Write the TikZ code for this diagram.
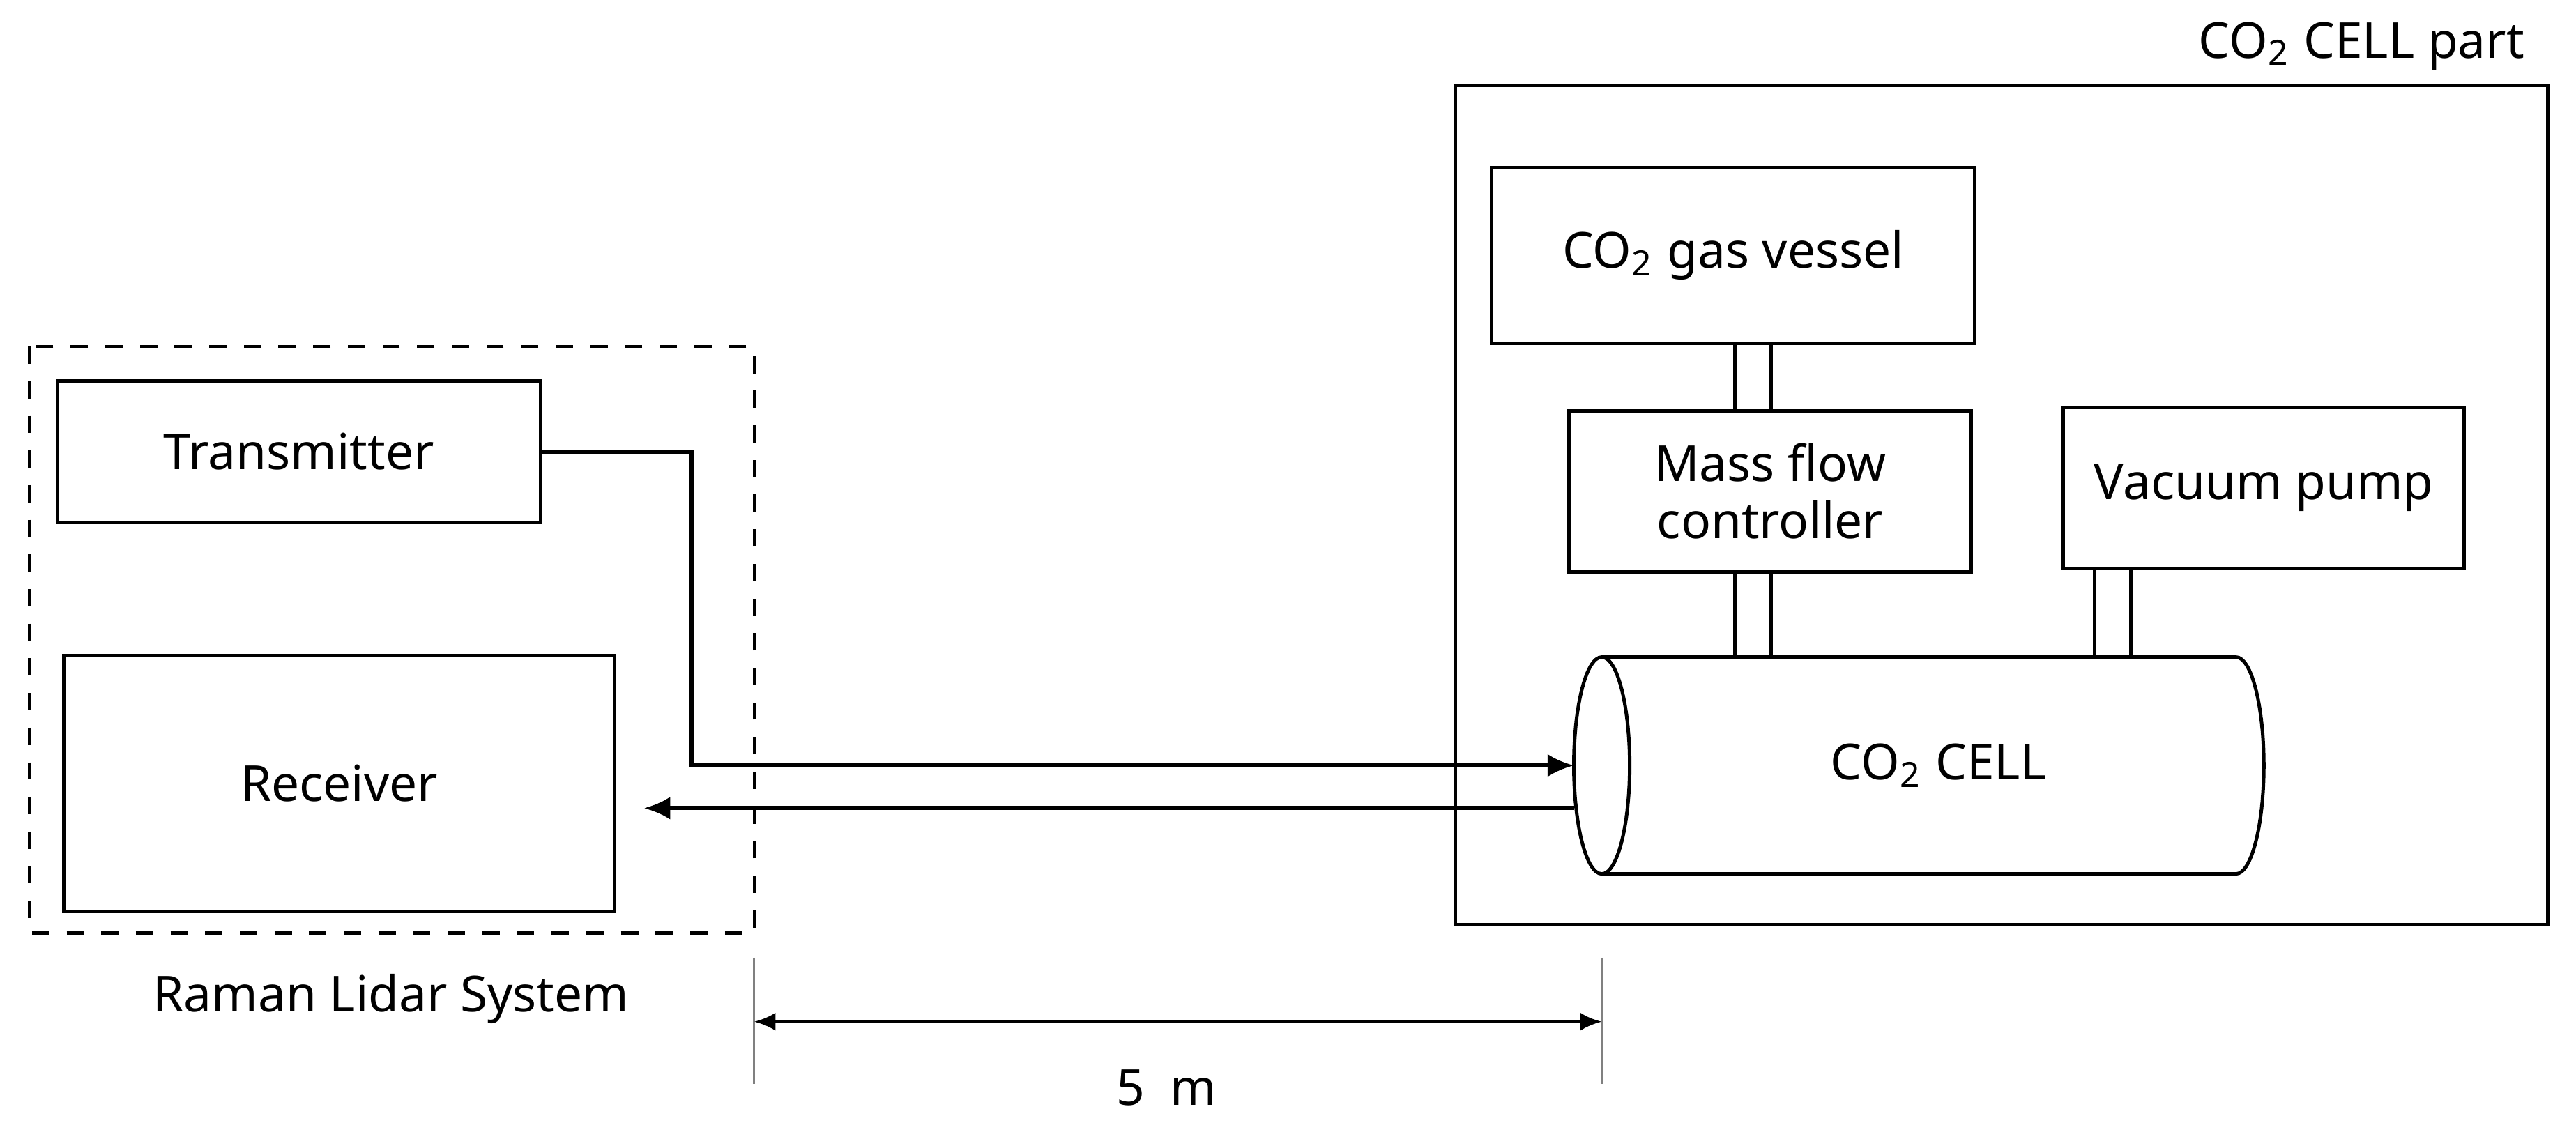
\documentclass[tikz,border=0pt]{standalone}
\usepackage{fontspec}
\setmainfont{Noto Sans}
\usetikzlibrary{positioning,arrows.meta}
\begin{document}
\begin{tikzpicture}[x=0.1mm,y=-0.1mm, every node/.style={font=\fontsize{8.6}{10}\selectfont},
          blk/.style={draw, line width=0.6pt, inner sep=0pt, align=center},
          pipe/.style={line width=0.6pt},
          ray/.style={line width=0.7pt, -{Latex[length=1.6mm,width=1.4mm]}}]
\useasboundingbox (0,0) rectangle (1568,693);
% Raman lidar side
\draw[dashed, line width=0.5pt] (18,211) rectangle (459,568);
\node[blk, minimum width=29.4mm, minimum height=8.6mm] (tx) at (182,275) {Transmitter};
\node[blk, minimum width=33.5mm, minimum height=15.6mm] (rx) at (206.5,477) {Receiver};
\node (lidar) at (238,608) {Raman Lidar System};
% CO2 cell part
\draw[line width=0.6pt] (886,52) rectangle (1551,563);
\node[anchor=east] (part) at (1549,28) {CO\textsubscript{2} CELL part};
\node[blk, minimum width=29.4mm, minimum height=10.7mm] (gas) at (1055,155.5) {CO\textsubscript{2} gas vessel};
\node[blk, minimum width=24.5mm, minimum height=9.8mm] (mfc) at (1077.5,299) {Mass flow\\controller};
\node[blk, minimum width=24.4mm, minimum height=9.8mm] (pump) at (1378,297) {Vacuum pump};
% cell
\coordinate (cellL) at (975,466);
\draw[line width=0.6pt] (975,400) -- (1361,400) arc[start angle=-90, end angle=90, x radius=17, y radius=66] -- (975,532);
\draw[line width=0.6pt, fill=white] (cellL) ellipse[x radius=17, y radius=66];
\node (cell) at (1180,466) {CO\textsubscript{2} CELL};
% pipes
\foreach \px in {1056,1078} {
  \draw[pipe] (\px,209) -- (\px,250);
  \draw[pipe] (\px,348) -- (\px,400);
}
\foreach \px in {1275,1297}
  \draw[pipe] (\px,346) -- (\px,400);
% beams
\coordinate (hit) at (958,466);
\coordinate (back) at (958,492);
\coordinate (recv) at (392,492);
\draw[ray] (tx.east) -- (421,275) -- (421,466) -- (hit);
\draw[ray] (back) -- (recv);
% distance
\coordinate (d1) at (459,622);
\coordinate (d2) at (975,622);
\draw[line width=0.4pt, gray] (459,583) -- (459,660) (975,583) -- (975,660);
\draw[line width=0.6pt, {Latex[length=1.3mm,width=1.1mm]}-{Latex[length=1.3mm,width=1.1mm]}] (d1) -- (d2);
\node (dist) at (710,662) {5\enspace m};
\end{tikzpicture}
\end{document}
